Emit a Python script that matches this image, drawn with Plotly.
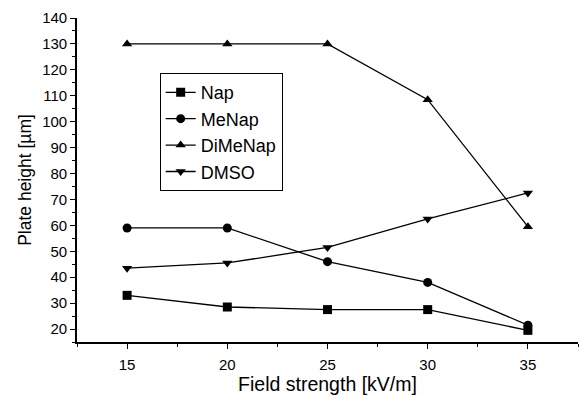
import plotly.graph_objects as go

field_strength = [15, 20, 25, 30, 35]
nap = [33, 28.5, 27.5, 27.5, 19.5]
menap = [59, 59, 46, 38, 21.5]
dimenap = [130, 130, 130, 108.5, 59.5]
dmso = [43.5, 45.5, 51.5, 62.5, 72.5]

series = [
    ("Nap", nap, "square"),
    ("MeNap", menap, "circle"),
    ("DiMeNap", dimenap, "triangle-up"),
    ("DMSO", dmso, "triangle-down"),
]

fig = go.Figure()
for name, vals, sym in series:
    fig.add_trace(go.Scatter(
        x=field_strength, y=vals, name=name, mode="lines+markers",
        line=dict(color="black", width=1.3),
        marker=dict(symbol=sym, size=9, color="black"),
    ))

font = dict(family="Liberation Sans, Arial, sans-serif", color="black")

fig.update_layout(
    width=580, height=397,
    margin=dict(l=77, r=2, t=18, b=55),
    paper_bgcolor="white", plot_bgcolor="white",
    font=dict(size=15, **font),
    showlegend=True,
    legend=dict(
        x=0.165, y=0.83, xanchor="left", yanchor="top",
        bordercolor="black", borderwidth=1, bgcolor="white",
        font=dict(size=18, **font), tracegroupgap=0,
        entrywidth=132, entrywidthmode="pixels",
    ),
    xaxis=dict(
        range=[12.5, 37.5], tickvals=field_strength,
        showline=True, linecolor="black", linewidth=1.6,
        ticks="outside", ticklen=5, tickcolor="black", tickwidth=1.3,
        ticklabelstandoff=3,
        minor=dict(dtick=2.5, tick0=12.5, ticks="outside", ticklen=3, tickcolor="black"),
        showgrid=False, zeroline=False,
        tickfont=dict(size=15, **font),
        title=dict(text="Field strength [kV/m]", font=dict(size=19.5, **font), standoff=6),
    ),
    yaxis=dict(
        range=[15, 140], tickvals=list(range(20, 141, 10)),
        showline=True, linecolor="black", linewidth=1.6,
        ticks="outside", ticklen=5, tickcolor="black", tickwidth=1.3,
        minor=dict(dtick=5, tick0=0, ticks="outside", ticklen=3, tickcolor="black"),
        showgrid=False, zeroline=False,
        tickfont=dict(size=15, **font),
        title=dict(text="Plate height [µm]", font=dict(size=17.5, **font), standoff=6),
    ),
)

fig.write_html("out.html")
